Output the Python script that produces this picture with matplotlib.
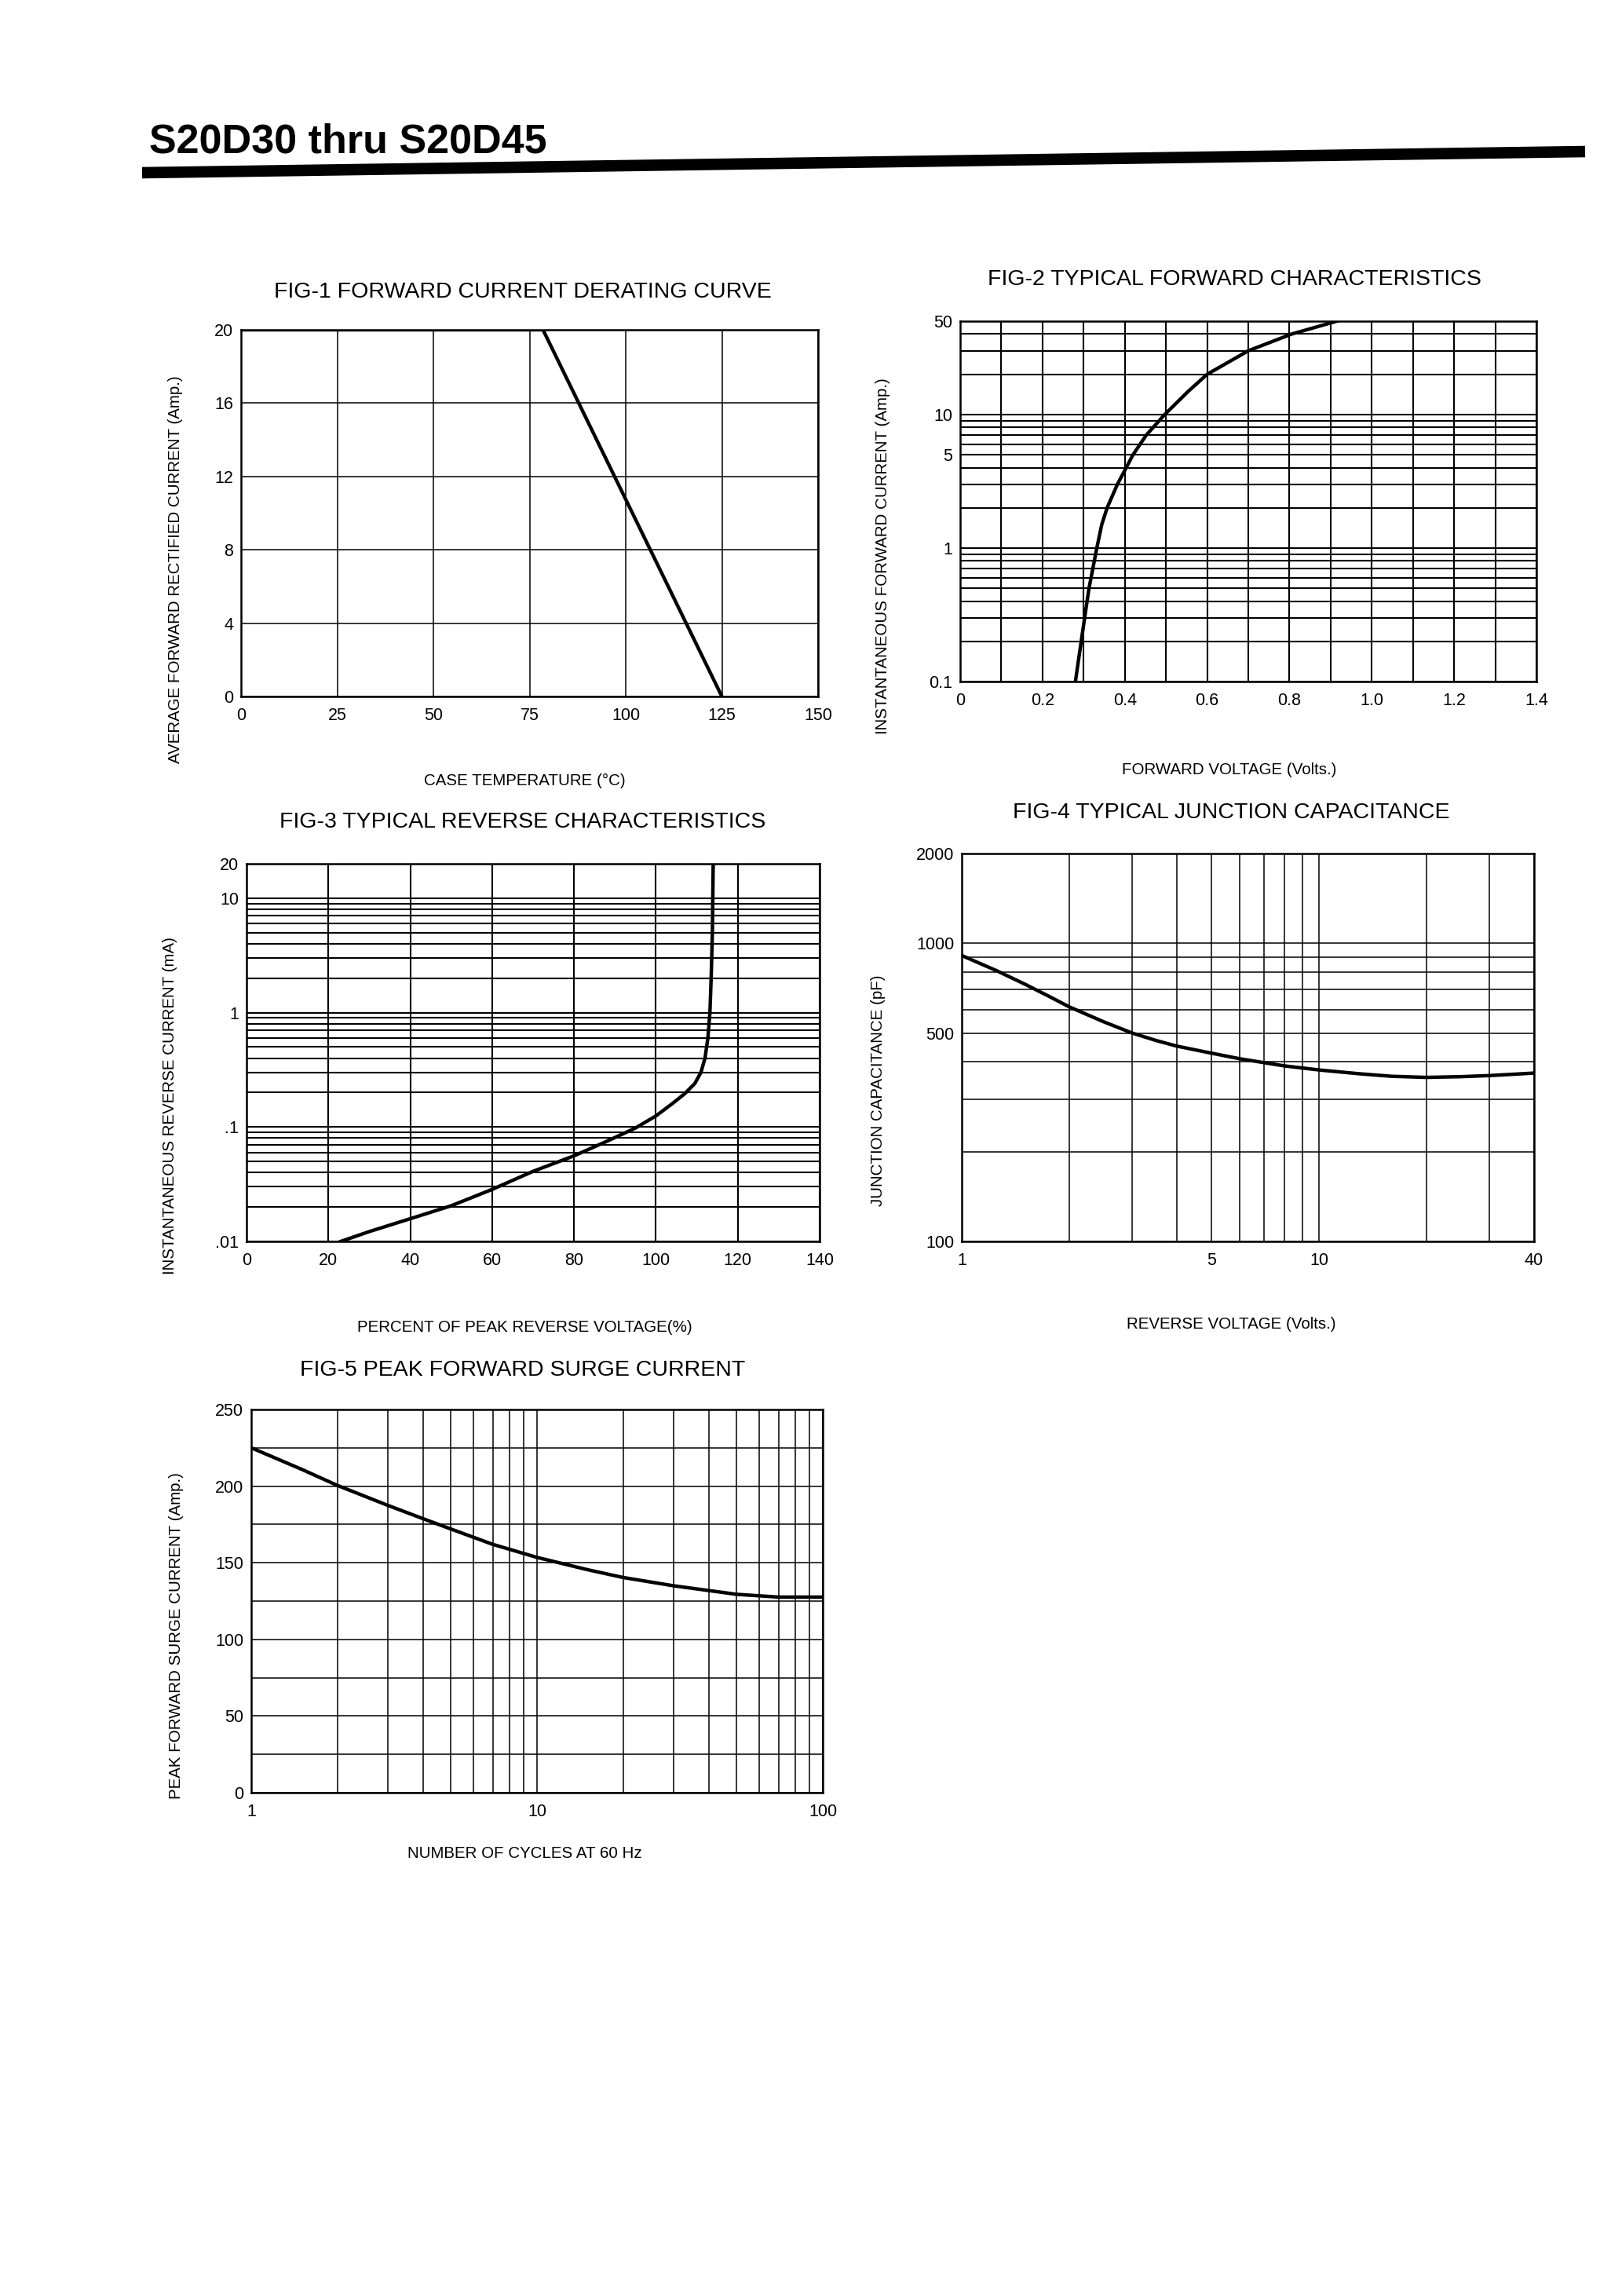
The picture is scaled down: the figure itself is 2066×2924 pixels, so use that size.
import matplotlib
matplotlib.use("Agg")
import matplotlib.pyplot as plt
from matplotlib.lines import Line2D
from matplotlib.ticker import NullFormatter

# ---------------- data ----------------
# FIG-1 derating
fig1_temp = [0, 78.5, 125]
fig1_current = [20, 20, 0]
fig1_xticks = [0, 25, 50, 75, 100, 125, 150]
fig1_yticks = [0, 4, 8, 12, 16, 20]

# FIG-2 forward characteristics
fig2_volt = [0.280, 0.294, 0.313, 0.332, 0.344, 0.357, 0.382, 0.420, 0.452, 0.497, 0.555, 0.600, 0.700, 0.805, 0.915]
fig2_curr = [0.1, 0.2, 0.5, 1.0, 1.5, 2.0, 3.0, 5.0, 7.0, 10.0, 15.0, 20.0, 30.0, 40.0, 50.0]
fig2_xticks = [0, 0.2, 0.4, 0.6, 0.8, 1.0, 1.2, 1.4]
fig2_xlabels = ["0", "0.2", "0.4", "0.6", "0.8", "1.0", "1.2", "1.4"]
fig2_yticks = [0.1, 1, 5, 10, 50]
fig2_ylabels = ["0.1", "1", "5", "10", "50"]

# FIG-3 reverse characteristics
fig3_pct = [23, 30, 40, 50, 60, 70, 80, 88, 95, 100, 104, 107, 109.5, 111, 112, 112.7, 113.2, 113.5, 113.8, 114.0]
fig3_curr = [0.01, 0.0122, 0.0158, 0.0205, 0.0285, 0.041, 0.056, 0.075, 0.098, 0.125, 0.16, 0.195, 0.24,
             0.30, 0.40, 0.60, 1.0, 2.0, 5.0, 20]
fig3_xticks = [0, 20, 40, 60, 80, 100, 120, 140]
fig3_yticks = [0.01, 0.1, 1, 10, 20]
fig3_ylabels = [".01", ".1", "1", "10", "20"]

# FIG-4 junction capacitance
fig4_volt = [1, 1.25, 1.5, 1.75, 2, 2.5, 3, 3.5, 4, 5, 6, 7, 8, 10, 13, 16, 20, 25, 30, 40]
fig4_cap = [910, 810, 730, 665, 612, 545, 500, 472, 452, 428, 410, 398, 388, 376, 365, 358, 355, 357, 360, 367]
fig4_xticks = [1, 5, 10, 40]
fig4_yticks = [100, 500, 1000, 2000]

# FIG-5 surge current
fig5_cycles = [1, 1.5, 2, 3, 4, 5, 7, 10, 15, 20, 30, 50, 70, 100]
fig5_amp = [225, 211, 200.5, 187.5, 178.7, 172, 162, 153.5, 145.5, 140.4, 135, 129.4, 127.6, 127.6]
fig5_xticks = [1, 10, 100]
fig5_yticks = [0, 50, 100, 150, 200, 250]

# ---------------- style ----------------
FONT = ["Liberation Sans", "DejaVu Sans"]
plt.rcParams["font.family"] = FONT

W, H = 2066, 2924
DPI = 100
fig = plt.figure(figsize=(W / DPI, H / DPI), dpi=DPI)
fig.patch.set_facecolor("white")


def fx(x):
    return x / W


def fy(y):
    return 1 - y / H


def make_axes(x0, y0, x1, y1):
    ax = fig.add_axes([fx(x0), fy(y1), fx(x1) - fx(x0), fy(y0) - fy(y1)])
    for s in ax.spines.values():
        s.set_linewidth(1.8)
        s.set_color("black")
    ax.tick_params(which="both", length=0, labelsize=15.5, colors="black")
    ax.tick_params(axis="y", pad=7)
    ax.tick_params(axis="x", pad=10)
    ax.set_axisbelow(True)
    return ax


TITLE_FS = 20.5
LABEL_FS = 14.8

# ---------------- header ----------------
fig.text(fx(190), fy(181), "S20D30 thru S20D45", fontsize=37.5, fontweight="bold",
         ha="left", va="center")
fig.add_artist(Line2D([fx(181), fx(2019)], [fy(220), fy(193)], lw=10.5, color="black",
                      solid_capstyle="butt", transform=fig.transFigure))

# ---------------- FIG-1 ----------------
ax1 = make_axes(307, 420, 1042, 887)
ax1.set_xlim(0, 150)
ax1.set_ylim(0, 20)
ax1.set_xticks(fig1_xticks)
ax1.set_yticks(fig1_yticks)
ax1.grid(True, color="black", lw=1.1)
ax1.plot(fig1_temp, fig1_current, color="black", lw=3.2, solid_capstyle="butt")
fig.text(fx(666), fy(372), "FIG-1 FORWARD CURRENT DERATING CURVE", fontsize=TITLE_FS,
         ha="center", va="center")
fig.text(fx(668), fy(994), "CASE TEMPERATURE (\u00b0C)", fontsize=LABEL_FS, ha="center", va="center")
fig.text(fx(224), fy(725), "AVERAGE FORWARD RECTIFIED CURRENT (Amp.)", fontsize=LABEL_FS,
         rotation=90, ha="center", va="center")

# ---------------- FIG-2 ----------------
ax2 = make_axes(1223, 409, 1957, 868)
ax2.set_yscale("log")
ax2.set_xlim(0, 1.4)
ax2.set_ylim(0.1, 50)
ax2.set_xticks(fig2_xticks, fig2_xlabels)
ax2.set_xticks([0.1, 0.3, 0.5, 0.7, 0.9, 1.1, 1.3], minor=True)
ax2.set_yticks(fig2_yticks, fig2_ylabels)
ax2.set_yticks([0.2, 0.3, 0.4, 0.5, 0.6, 0.7, 0.8, 0.9, 2, 3, 4, 6, 7, 8, 9, 20, 30, 40], minor=True)
ax2.yaxis.set_minor_formatter(NullFormatter())
ax2.grid(True, which="both", color="black", lw=1.5)
ax2.plot(fig2_volt, fig2_curr, color="black", lw=3.2)
fig.text(fx(1572), fy(356), "FIG-2 TYPICAL FORWARD CHARACTERISTICS", fontsize=TITLE_FS,
         ha="center", va="center")
fig.text(fx(1566), fy(980), "FORWARD VOLTAGE (Volts.)", fontsize=LABEL_FS, ha="center", va="center")
fig.text(fx(1124), fy(708), "INSTANTANEOUS FORWARD CURRENT (Amp.)", fontsize=LABEL_FS,
         rotation=90, ha="center", va="center")

# ---------------- FIG-3 ----------------
ax3 = make_axes(314, 1100, 1044, 1581)
ax3.set_yscale("log")
ax3.set_xlim(0, 140)
ax3.set_ylim(0.01, 20)
ax3.set_xticks(fig3_xticks)
ax3.set_yticks(fig3_yticks, fig3_ylabels)
ax3.set_yticks([0.02, 0.03, 0.04, 0.05, 0.06, 0.07, 0.08, 0.09,
                0.2, 0.3, 0.4, 0.5, 0.6, 0.7, 0.8, 0.9,
                2, 3, 4, 5, 6, 7, 8, 9], minor=True)
ax3.yaxis.set_minor_formatter(NullFormatter())
ax3.grid(True, which="both", axis="y", color="black", lw=1.5)
ax3.grid(True, which="major", axis="x", color="black", lw=1.5)
ax3.plot(fig3_pct, fig3_curr, color="black", lw=3.2)
fig.text(fx(666), fy(1047), "FIG-3 TYPICAL REVERSE CHARACTERISTICS", fontsize=TITLE_FS,
         ha="center", va="center")
fig.text(fx(668), fy(1691), "PERCENT OF PEAK REVERSE VOLTAGE(%)", fontsize=LABEL_FS,
         ha="center", va="center")
fig.text(fx(216), fy(1408), "INSTANTANEOUS REVERSE CURRENT (mA)", fontsize=LABEL_FS,
         rotation=90, ha="center", va="center")

# ---------------- FIG-4 ----------------
ax4 = make_axes(1225, 1087, 1954, 1581)
ax4.set_xscale("log")
ax4.set_yscale("log")
ax4.set_xlim(1, 40)
ax4.set_ylim(100, 2000)
ax4.set_xticks(fig4_xticks, [str(v) for v in fig4_xticks])
ax4.set_xticks([2, 3, 4, 6, 7, 8, 9, 20, 30], minor=True)
ax4.set_yticks(fig4_yticks, [str(v) for v in fig4_yticks])
ax4.set_yticks([200, 300, 400, 600, 700, 800, 900], minor=True)
ax4.xaxis.set_minor_formatter(NullFormatter())
ax4.yaxis.set_minor_formatter(NullFormatter())
ax4.grid(True, which="both", color="black", lw=1.1)
ax4.plot(fig4_volt, fig4_cap, color="black", lw=3.2)
fig.text(fx(1568), fy(1035), "FIG-4 TYPICAL JUNCTION CAPACITANCE", fontsize=TITLE_FS,
         ha="center", va="center")
fig.text(fx(1568), fy(1687), "REVERSE VOLTAGE (Volts.)", fontsize=LABEL_FS, ha="center", va="center")
fig.text(fx(1119), fy(1389), "JUNCTION CAPACITANCE (pF)", fontsize=LABEL_FS,
         rotation=90, ha="center", va="center")

# ---------------- FIG-5 ----------------
ax5 = make_axes(320, 1795, 1048, 2283)
ax5.set_xscale("log")
ax5.set_xlim(1, 100)
ax5.set_ylim(0, 250)
ax5.set_xticks(fig5_xticks, [str(v) for v in fig5_xticks])
ax5.set_xticks([2, 3, 4, 5, 6, 7, 8, 9, 20, 30, 40, 50, 60, 70, 80, 90], minor=True)
ax5.xaxis.set_minor_formatter(NullFormatter())
ax5.set_yticks(fig5_yticks)
ax5.set_yticks([25, 75, 125, 175, 225], minor=True)
ax5.grid(True, which="both", color="black", lw=1.1)
ax5.plot(fig5_cycles, fig5_amp, color="black", lw=3.2)
fig.text(fx(666), fy(1745), "FIG-5 PEAK FORWARD SURGE CURRENT", fontsize=TITLE_FS,
         ha="center", va="center")
fig.text(fx(668), fy(2361), "NUMBER OF CYCLES AT 60 Hz", fontsize=LABEL_FS, ha="center", va="center")
fig.text(fx(224), fy(2083), "PEAK FORWARD SURGE CURRENT (Amp.)", fontsize=LABEL_FS,
         rotation=90, ha="center", va="center")

fig.savefig("out.png", dpi=DPI, facecolor="white")
